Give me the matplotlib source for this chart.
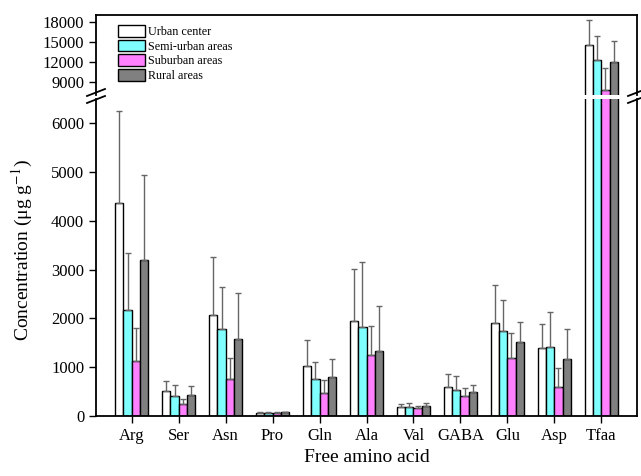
import numpy as np
import matplotlib.pyplot as plt
from matplotlib.lines import Line2D

plt.rcParams['font.family'] = ['Liberation Serif', 'DejaVu Serif']
plt.rcParams['mathtext.fontset'] = 'stix'

cats = ["Arg", "Ser", "Asn", "Pro", "Gln", "Ala", "Val", "GABA", "Glu", "Asp", "Tfaa"]
groups = ["Urban center", "Semi-urban areas", "Suburban areas", "Rural areas"]

urban = [4365, 520, 2074, 60, 1020, 1957, 192, 595, 1903, 1389, 14550]
urban_err = [1885, 205, 1191, 20, 540, 1055, 61, 267, 780, 507, 3750]
semi = [2177, 417, 1786, 55, 766, 1834, 192, 541, 1752, 1424, 12200]
semi_err = [1156, 220, 863, 20, 343, 1314, 81, 280, 623, 718, 3700]
sub = [1130, 240, 766, 65, 472, 1253, 157, 417, 1184, 602, 7800]
sub_err = [677, 109, 425, 15, 261, 595, 48, 165, 513, 377, 3300]
rural = [3203, 425, 1587, 75, 794, 1341, 212, 486, 1526, 1170, 11900]
rural_err = [1731, 185, 945, 15, 370, 924, 55, 157, 404, 616, 3200]

series = [urban, semi, sub, rural]
errors = [urban_err, semi_err, sub_err, rural_err]
colors = ["white", "#80ffff", "#ff80ff", "#808080"]

W, H = 641, 476
fig = plt.figure(figsize=(W / 100, H / 100), dpi=100)

def fx(px):
    return px / W

def fy(py):
    return 1 - py / H

left, right = 96, 637
ax_lo = fig.add_axes([fx(left), fy(416), fx(right - left), fy(99) - fy(416)])
ax_hi = fig.add_axes([fx(left), fy(95), fx(right - left), fy(15) - fy(95)])

x = np.arange(len(cats))
bw = 0.175
for ax in (ax_lo, ax_hi):
    for i, (vals, errs, c) in enumerate(zip(series, errors, colors)):
        pos = x + (i - 1.5) * bw
        ax.bar(pos, vals, width=bw, color=c, edgecolor="black", linewidth=1,
               label=groups[i],
               yerr=[np.zeros(len(errs)), errs],
               error_kw=dict(ecolor="#666666", elinewidth=1, capsize=2, capthick=1))
    ax.set_xlim(-0.76, 10.76)
    for s in ax.spines.values():
        s.set_linewidth(1.3)
    ax.tick_params(direction="out", length=5, width=1, labelsize=12)

ax_lo.set_ylim(0, 6500)
ax_lo.set_yticks([0, 1000, 2000, 3000, 4000, 5000, 6000])
ax_lo.set_xticks(x)
ax_lo.set_xticklabels(cats)
ax_lo.spines["top"].set_visible(False)
ax_lo.set_xlabel("Free amino acid", fontsize=14)

ax_hi.set_ylim(7000, 19000)
ax_hi.set_yticks([9000, 12000, 15000, 18000])
ax_hi.set_xticks([])
ax_hi.spines["bottom"].set_visible(False)

ax_hi.legend(loc="upper left", bbox_to_anchor=(0.041, 0.875), frameon=False,
             fontsize=8.7, handlelength=2.25, handleheight=1.1, labelspacing=0.15,
             handletextpad=0.25, borderpad=0, borderaxespad=0)

fig.text(0.035, fy(250), "Concentration (μg g$^{-1}$)", rotation=90,
         ha="center", va="center", fontsize=14)

# break marks
for bx in (left, right):
    for dy in (0, 7):
        fig.add_artist(Line2D([fx(bx - 9), fx(bx + 9)], [fy(96 + dy), fy(89 + dy)],
                              color="black", linewidth=1.3))

fig.savefig("out.png", dpi=100)
